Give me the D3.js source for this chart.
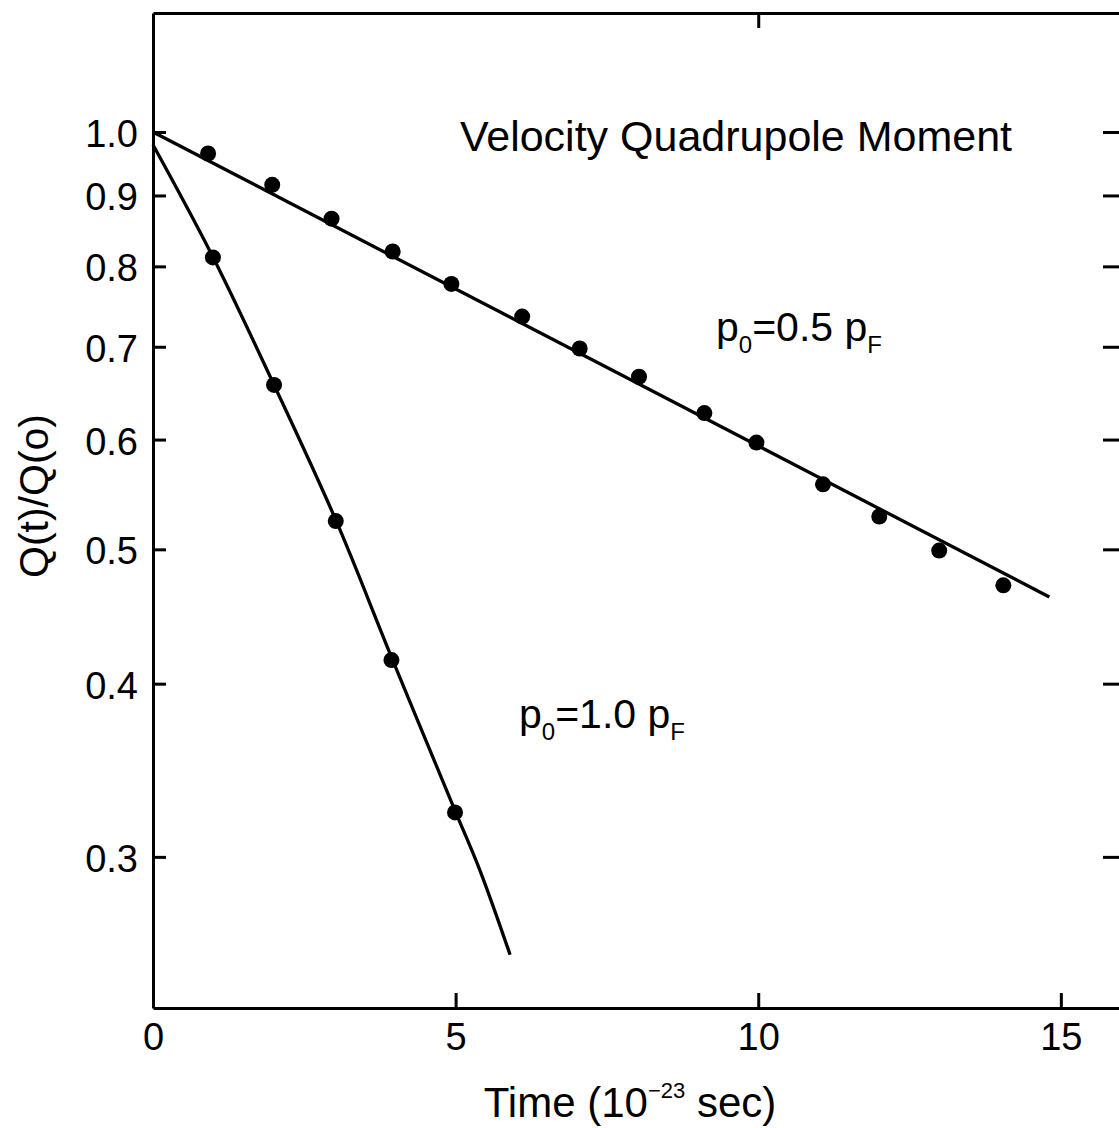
<!DOCTYPE html>
<html><head><meta charset="utf-8">
<script src="https://cdn.jsdelivr.net/npm/d3@7"></script>
<style>
body{margin:0;background:#fff}
text{font-family:"Liberation Sans",Arial,Helvetica,sans-serif;fill:#000}
</style>
</head><body>
<svg id="chart" width="1119" height="1128"></svg>
<script>
// ---- data ----
const yTickValues = [1.0, 0.9, 0.8, 0.7, 0.6, 0.5, 0.4, 0.3];
const xTickValues = [0, 5, 10, 15];
const topTickValues = [10];

// p0 = 0.5 pF  (dots)
const timesHalf  = [0.91, 1.97, 2.95, 3.96, 4.93, 6.10, 7.05, 8.03, 9.11, 9.97, 11.07, 12.00, 12.99, 14.05];
const valuesHalf = [0.965, 0.916, 0.866, 0.820, 0.777, 0.736, 0.698, 0.666, 0.627, 0.597, 0.557, 0.528, 0.499, 0.471];
// p0 = 0.5 pF  (fitted line)
const lineHalfT = [0, 14.81];
const lineHalfV = [1.0, 0.462];

// p0 = 1.0 pF  (dots)
const timesOne  = [0.99, 2.00, 3.02, 3.94, 4.99];
const valuesOne = [0.812, 0.657, 0.524, 0.416, 0.323];
// p0 = 1.0 pF  (curve)
const curveOneT = [0, 0.99, 2.00, 3.02, 3.95, 4.99, 5.40, 5.90];
const curveOneV = [0.979, 0.8125, 0.657, 0.525, 0.417, 0.324, 0.2935, 0.255];

// ---- drawing ----
const svg = d3.select("#chart");
const x = d3.scaleLinear().domain([0, 16.06]).range([153, 1125]);
const y = d3.scaleLog().domain([0.2334, 1.2186]).range([1008, 13]);

const axW = 3;
function styleAxis(g){
  g.selectAll("path.domain").attr("stroke","#000").attr("stroke-width",axW);
  g.selectAll(".tick line").attr("stroke","#000").attr("stroke-width",axW);
  g.selectAll(".tick text").style("font-family",'"Liberation Sans",Arial,sans-serif').attr("fill","#000");
}

// left axis
svg.append("g").attr("transform",`translate(${x(0)},0)`)
  .call(d3.axisLeft(y).tickValues(yTickValues).tickFormat(d3.format(".1f"))
        .tickSizeInner(-13).tickSizeOuter(0).tickPadding(15))
  .call(g=>{styleAxis(g); g.selectAll(".tick text").attr("font-size",38).attr("dy","0.38em");});

// right axis (frame beyond the picture edge)
svg.append("g").attr("transform",`translate(${x.range()[1]},0)`)
  .call(d3.axisRight(y).tickValues(yTickValues).tickFormat("")
        .tickSizeInner(-22).tickSizeOuter(0))
  .call(styleAxis);

// bottom axis
svg.append("g").attr("transform",`translate(0,${y.range()[0]})`)
  .call(d3.axisBottom(x).tickValues(xTickValues).tickFormat(d3.format("d"))
        .tickSizeInner(-15).tickSizeOuter(0).tickPadding(15))
  .call(g=>{styleAxis(g); g.selectAll(".tick text").attr("font-size",38);
            g.selectAll(".tick").filter(d=>d===0).select("line").remove();});

// top axis
svg.append("g").attr("transform",`translate(0,${y.range()[1]})`)
  .call(d3.axisTop(x).tickValues(topTickValues).tickFormat("")
        .tickSizeInner(-15).tickSizeOuter(0))
  .call(styleAxis);

// lines
const line = d3.line().x(d=>x(d[0])).y(d=>y(d[1]));
svg.append("path")
  .datum(d3.zip(lineHalfT, lineHalfV))
  .attr("d", line).attr("fill","none").attr("stroke","#000").attr("stroke-width",3.3);
svg.append("path")
  .datum(d3.zip(curveOneT, curveOneV))
  .attr("d", line.curve(d3.curveCatmullRom.alpha(0.5)))
  .attr("fill","none").attr("stroke","#000").attr("stroke-width",3.3);

// dots
svg.append("g").selectAll("circle").data(d3.zip(timesHalf, valuesHalf)).join("circle")
  .attr("cx",d=>x(d[0])).attr("cy",d=>y(d[1])).attr("r",8).attr("fill","#000");
svg.append("g").selectAll("circle").data(d3.zip(timesOne, valuesOne)).join("circle")
  .attr("cx",d=>x(d[0])).attr("cy",d=>y(d[1])).attr("r",8).attr("fill","#000");

// title
svg.append("text").attr("x",736).attr("y",151).attr("text-anchor","middle")
  .attr("font-size",43).text("Velocity Quadrupole Moment");

// annotations
function label(xp, yp, main){
  const t = svg.append("text").attr("x",xp).attr("y",yp).attr("font-size",41);
  t.append("tspan").text("p");
  t.append("tspan").attr("font-size",24).attr("dy",12).text("0");
  t.append("tspan").attr("dy",-12).text("=" + main + " p");
  t.append("tspan").attr("font-size",24).attr("dy",12).text("F");
}
label(716, 341, "0.5");
label(519, 728, "1.0");

// axis titles
const xt = svg.append("text").attr("x",630).attr("y",1117).attr("text-anchor","middle").attr("font-size",42);
xt.append("tspan").text("Time (10");
xt.append("tspan").attr("font-size",22).attr("dy",-19).text("\u221223");
xt.append("tspan").attr("dy",19).text(" sec)");

svg.append("text").attr("transform","translate(48,496) rotate(-90)")
  .attr("text-anchor","middle").attr("font-size",41).text("Q(t)/Q(o)");
</script>
</body></html>
